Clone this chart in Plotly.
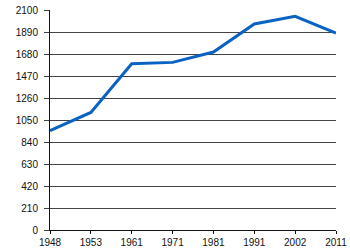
import plotly.graph_objects as go

years = ["1948", "1953", "1961", "1971", "1981", "1991", "2002", "2011"]
population = [948, 1122, 1587, 1600, 1699, 1966, 2039, 1880]
y_ticks = [0, 210, 420, 630, 840, 1050, 1260, 1470, 1680, 1890, 2100]

fig = go.Figure()
fig.add_trace(go.Scatter(
    x=years, y=population, mode="lines",
    line=dict(color="#0a62c2", width=3),
    hoverinfo="skip",
))

fig.update_layout(
    width=350, height=250,
    margin=dict(l=50, r=14, t=10, b=20, autoexpand=False),
    paper_bgcolor="white", plot_bgcolor="white",
    showlegend=False,
    font=dict(family="Liberation Sans, Arial, sans-serif", size=10, color="#111"),
)
fig.update_xaxes(
    type="category", range=[0, 7], automargin=False,
    showgrid=False, showline=True, linecolor="#111", linewidth=1,
    ticks="outside", ticklen=3, tickcolor="#111",
    ticklabelstandoff=0,
)
fig.update_yaxes(
    range=[0, 2100], tickvals=y_ticks, automargin=False,
    showgrid=True, gridcolor="#444", gridwidth=1,
    showline=True, linecolor="#111", linewidth=1,
    ticks="outside", ticklen=5, tickcolor="#444",
    ticklabelstandoff=4, zeroline=False,
)

fig.write_html("out.html")
